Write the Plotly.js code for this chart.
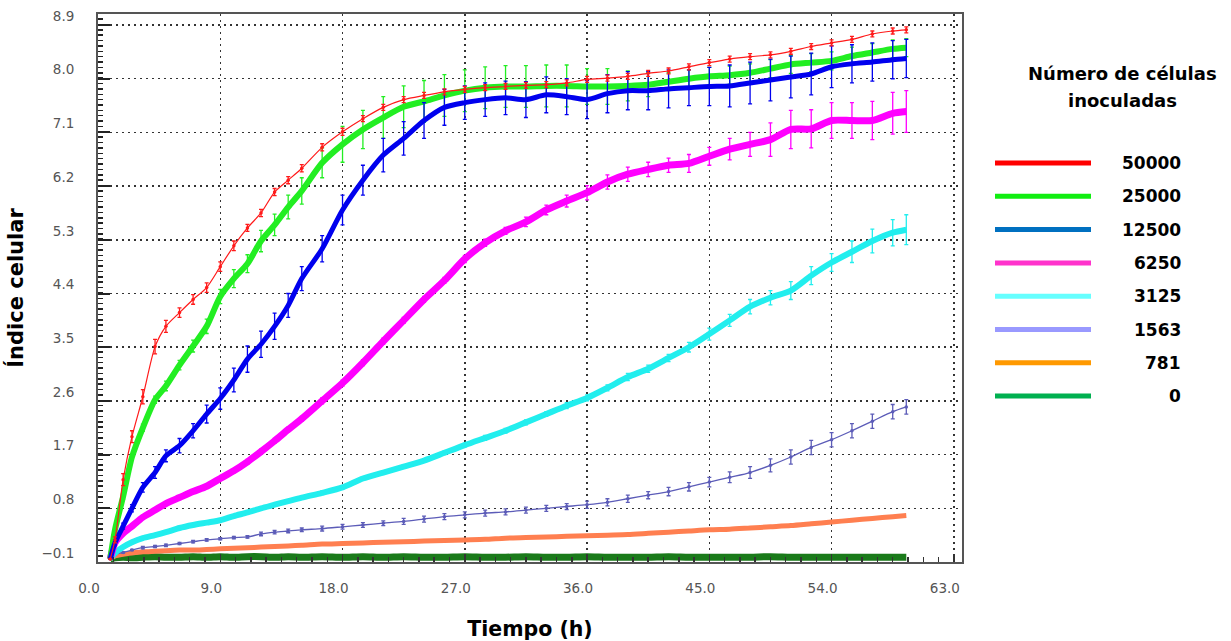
<!DOCTYPE html>
<html>
<head>
<meta charset="utf-8">
<script src="https://cdn.plot.ly/plotly-3.0.1.min.js"></script>
<style>
  html, body { margin: 0; padding: 0; background: #ffffff; }
  #chart { width: 1231px; height: 641px; }
</style>
</head>
<body>
<div id="chart"></div>
<script>
// Time (h)
const tiempo = [0.9, 1.25, 1.85, 2.5, 3.3, 4.2, 5, 6, 7, 8, 9, 10, 11, 12, 13, 14, 15, 16.5, 18, 19.5, 21, 22.5, 24, 25.5, 27, 28.5, 30, 31.5, 33, 34.5, 36, 37.5, 39, 40.5, 42, 43.5, 45, 46.5, 48, 49.5, 51, 52.5, 54, 55.5, 57, 58.5, 59.5];

// Cell index per number of inoculated cells
const ci50000 = [-0.05, 0.27, 1.28, 2.0, 2.67, 3.51, 3.85, 4.08, 4.3, 4.5, 4.85, 5.2, 5.5, 5.75, 6.1, 6.3, 6.5, 6.85, 7.11, 7.33, 7.52, 7.65, 7.72, 7.78, 7.82, 7.85, 7.87, 7.89, 7.9, 7.93, 7.99, 8.01, 8.04, 8.09, 8.13, 8.2, 8.27, 8.33, 8.37, 8.4, 8.46, 8.54, 8.6, 8.66, 8.75, 8.8, 8.82];
const ci25000 = [-0.05, 0.44, 1.0, 1.66, 2.15, 2.62, 2.85, 3.2, 3.52, 3.85, 4.35, 4.65, 4.9, 5.28, 5.55, 5.85, 6.12, 6.59, 6.9, 7.15, 7.35, 7.53, 7.62, 7.72, 7.8, 7.85, 7.87, 7.87, 7.88, 7.88, 7.87, 7.87, 7.88, 7.9, 7.95, 8.0, 8.04, 8.06, 8.1, 8.17, 8.24, 8.27, 8.3, 8.38, 8.44, 8.5, 8.52];
const ci12500 = [-0.05, 0.22, 0.5, 0.8, 1.15, 1.4, 1.68, 1.85, 2.1, 2.38, 2.64, 2.95, 3.3, 3.55, 3.85, 4.2, 4.65, 5.15, 5.8, 6.3, 6.72, 7.0, 7.3, 7.52, 7.6, 7.65, 7.68, 7.65, 7.73, 7.7, 7.65, 7.75, 7.8, 7.8, 7.83, 7.85, 7.87, 7.88, 7.93, 7.98, 8.03, 8.08, 8.2, 8.25, 8.28, 8.32, 8.34];
const ci6250 = [-0.05, 0.22, 0.38, 0.5, 0.65, 0.77, 0.88, 0.98, 1.08, 1.17, 1.3, 1.43, 1.58, 1.75, 1.93, 2.12, 2.3, 2.6, 2.9, 3.24, 3.6, 3.95, 4.3, 4.62, 4.98, 5.25, 5.45, 5.6, 5.8, 5.95, 6.09, 6.27, 6.4, 6.48, 6.55, 6.58, 6.7, 6.82, 6.9, 6.98, 7.15, 7.16, 7.3, 7.3, 7.3, 7.42, 7.45];
const ci3125 = [-0.05, 0.05, 0.15, 0.23, 0.3, 0.35, 0.4, 0.47, 0.52, 0.56, 0.6, 0.67, 0.73, 0.8, 0.86, 0.92, 0.98, 1.06, 1.15, 1.3, 1.4, 1.5, 1.6, 1.73, 1.86, 1.98, 2.1, 2.24, 2.38, 2.52, 2.65, 2.82, 3.0, 3.14, 3.32, 3.5, 3.72, 3.95, 4.18, 4.33, 4.45, 4.7, 4.92, 5.1, 5.28, 5.42, 5.47];
const ci1563 = [-0.05, 0.02, 0.06, 0.1, 0.14, 0.16, 0.18, 0.21, 0.24, 0.27, 0.29, 0.31, 0.32, 0.37, 0.4, 0.42, 0.44, 0.46, 0.49, 0.52, 0.55, 0.58, 0.62, 0.66, 0.69, 0.72, 0.74, 0.77, 0.8, 0.83, 0.86, 0.9, 0.96, 1.02, 1.08, 1.16, 1.24, 1.32, 1.4, 1.52, 1.66, 1.82, 1.95, 2.1, 2.26, 2.42, 2.5];
const ci781 = [-0.05, 0.0, 0.03, 0.05, 0.07, 0.08, 0.09, 0.1, 0.1, 0.11, 0.12, 0.13, 0.14, 0.15, 0.16, 0.17, 0.18, 0.2, 0.21, 0.22, 0.23, 0.24, 0.25, 0.26, 0.27, 0.28, 0.3, 0.31, 0.32, 0.33, 0.34, 0.35, 0.36, 0.38, 0.4, 0.42, 0.44, 0.45, 0.47, 0.49, 0.51, 0.54, 0.57, 0.6, 0.63, 0.66, 0.68];
const ci0 = [-0.05, -0.03, -0.02, -0.03, -0.02, -0.01, -0.02, -0.02, -0.01, -0.02, -0.01, -0.02, -0.01, -0.01, -0.02, -0.01, -0.02, -0.01, -0.02, -0.01, -0.02, -0.01, -0.02, -0.02, -0.01, -0.02, -0.02, -0.01, -0.02, -0.02, -0.01, -0.02, -0.02, -0.02, -0.01, -0.02, -0.02, -0.02, -0.02, -0.01, -0.02, -0.02, -0.02, -0.02, -0.02, -0.02, -0.02];

// Error (standard deviation) per series
const err50000 = [0, 0.05, 0.1, 0.1, 0.12, 0.12, 0.1, 0.08, 0.08, 0.08, 0.08, 0.08, 0.06, 0.06, 0.06, 0.06, 0.06, 0.06, 0.06, 0.05, 0.05, 0.05, 0.05, 0.05, 0.05, 0.05, 0.05, 0.05, 0.05, 0.05, 0.05, 0.05, 0.05, 0.05, 0.05, 0.05, 0.05, 0.05, 0.05, 0.05, 0.05, 0.05, 0.05, 0.05, 0.05, 0.05, 0.05];
const err25000 = [0, 0.05, 0.05, 0.05, 0.06, 0.06, 0.08, 0.08, 0.1, 0.12, 0.12, 0.15, 0.15, 0.18, 0.18, 0.2, 0.22, 0.25, 0.3, 0.32, 0.35, 0.35, 0.35, 0.35, 0.35, 0.35, 0.35, 0.35, 0.35, 0.35, 0.3, 0.3, 0.25, 0.2, 0.15, 0.15, 0.15, 0.15, 0.15, 0.15, 0.15, 0.15, 0.15, 0.15, 0.15, 0.15, 0.15];
const err12500 = [0, 0.05, 0.05, 0.06, 0.08, 0.1, 0.1, 0.12, 0.12, 0.15, 0.18, 0.2, 0.22, 0.22, 0.22, 0.2, 0.2, 0.22, 0.25, 0.25, 0.28, 0.28, 0.3, 0.3, 0.28, 0.28, 0.28, 0.3, 0.3, 0.3, 0.32, 0.32, 0.32, 0.32, 0.32, 0.3, 0.32, 0.35, 0.35, 0.35, 0.35, 0.35, 0.35, 0.32, 0.32, 0.32, 0.32];
const err6250 = [0, 0.03, 0.03, 0.03, 0.03, 0.03, 0.03, 0.03, 0.03, 0.03, 0.03, 0.03, 0.04, 0.04, 0.04, 0.04, 0.04, 0.05, 0.05, 0.05, 0.05, 0.05, 0.05, 0.05, 0.06, 0.06, 0.06, 0.08, 0.08, 0.1, 0.12, 0.12, 0.12, 0.12, 0.12, 0.15, 0.15, 0.18, 0.2, 0.28, 0.32, 0.32, 0.3, 0.3, 0.32, 0.35, 0.35];
const err3125 = [0, 0.02, 0.02, 0.02, 0.02, 0.02, 0.02, 0.02, 0.02, 0.02, 0.02, 0.02, 0.02, 0.02, 0.02, 0.02, 0.02, 0.03, 0.03, 0.03, 0.03, 0.03, 0.03, 0.03, 0.03, 0.04, 0.04, 0.04, 0.04, 0.05, 0.05, 0.05, 0.06, 0.06, 0.06, 0.08, 0.1, 0.1, 0.12, 0.12, 0.15, 0.15, 0.15, 0.18, 0.2, 0.22, 0.25];
const err1563 = [0, 0.01, 0.01, 0.01, 0.02, 0.02, 0.02, 0.02, 0.02, 0.02, 0.02, 0.02, 0.02, 0.03, 0.03, 0.03, 0.03, 0.04, 0.04, 0.04, 0.04, 0.05, 0.05, 0.05, 0.05, 0.05, 0.05, 0.05, 0.05, 0.05, 0.06, 0.06, 0.06, 0.06, 0.07, 0.07, 0.08, 0.09, 0.1, 0.11, 0.12, 0.12, 0.12, 0.12, 0.12, 0.12, 0.12];

// Legend
const legendTitleLines = ["Número de células", "inoculadas"];
const legendLabels = ["50000", "25000", "12500", "6250", "3125", "1563", "781", "0"];
const legendColors = ["#ff0000", "#11ee11", "#0070c0", "#ff33cc", "#66ffff", "#9999ff", "#ff9900", "#00b050"];

const xTitle = "Tiempo (h)";
const yTitle = "Índice celular";

function errTrace(y, err, color, width, marker) {
  const t = {
    x: tiempo, y: y, type: 'scatter', mode: marker ? 'lines+markers' : 'lines',
    line: { color: color, width: width, shape: 'spline', smoothing: 0.7 },
    hoverinfo: 'skip', showlegend: false
  };
  if (marker) t.marker = { color: color, size: 3.5 };
  if (err) t.error_y = { type: 'data', array: err, visible: true, color: color, thickness: 1.3, width: 2 };
  return t;
}

const traces = [
  errTrace(ci0, null, '#1a7a1a', 7, false),
  errTrace(ci781, null, '#ff7f50', 5, false),
  errTrace(ci1563, err1563, '#5c5cb8', 1.3, true),
  errTrace(ci3125, err3125, '#22eeee', 6, false),
  errTrace(ci6250, err6250, '#ff00ff', 7, false),
  errTrace(ci25000, err25000, '#22ee22', 6, false),
  errTrace(ci12500, err12500, '#0000ee', 5, false),
  errTrace(ci50000, err50000, '#ff1a1a', 1.2, true)
];

const plotL = 98, plotR = 962, plotT = 14, plotB = 562;
const pw = plotR - plotL, ph = plotB - plotT;
const px = v => (v - plotL) / pw;
const py = v => (plotB - v) / ph;

const legendY0 = 163, legendStep = 33.3;
const shapes = [];
const annotations = [];
legendLabels.forEach((lab, i) => {
  const yy = py(legendY0 + i * legendStep);
  shapes.push({
    type: 'line', xref: 'paper', yref: 'paper',
    x0: px(995), x1: px(1091), y0: yy, y1: yy,
    line: { color: legendColors[i], width: 5 }
  });
  annotations.push({
    xref: 'paper', yref: 'paper', x: px(1183), y: yy,
    xanchor: 'right', yanchor: 'middle', showarrow: false,
    text: lab, font: { family: 'DejaVu Sans', size: 17, color: '#000', weight: 'bold' }
  });
});
legendTitleLines.forEach((line, i) => {
  annotations.push({
    xref: 'paper', yref: 'paper', x: px(1122), y: py(74 + i * 27),
    xanchor: 'center', yanchor: 'middle', showarrow: false,
    text: line, font: { family: 'DejaVu Sans', size: 18, color: '#000', weight: 'bold' }
  });
});

const layout = {
  width: 1231, height: 641,
  paper_bgcolor: '#ffffff', plot_bgcolor: '#ffffff',
  margin: { l: plotL, r: 1231 - plotR, t: plotT, b: 641 - plotB, pad: 0 },
  showlegend: false,
  xaxis: {
    range: [0, 63.6], tick0: 0, dtick: 9, tickformat: '.1f',
    showgrid: true, gridcolor: '#333', griddash: '2px,4px', gridwidth: 1.5,
    zeroline: false, showline: true, linecolor: '#555', linewidth: 2, mirror: true,
    ticks: 'inside', ticklen: 8, tickcolor: '#333', tickwidth: 1.5,
    minor: { dtick: 1.125, ticks: 'inside', ticklen: 5, tickcolor: '#333', showgrid: false },
    tickfont: { family: 'DejaVu Sans', size: 13.5, color: '#555' },
    ticklabelstandoff: 13, ticklabelshift: -9,
    title: { text: xTitle, font: { family: 'DejaVu Sans', size: 20.5, color: '#000', weight: 'bold' }, standoff: 26 }
  },
  yaxis: {
    range: [-0.1, 9.085], tick0: -0.1, dtick: 0.9, tickformat: '.1f',
    showgrid: true, gridcolor: '#333', griddash: '2px,4px', gridwidth: 1.5,
    zeroline: false, showline: true, linecolor: '#555', linewidth: 2, mirror: true,
    ticks: 'inside', ticklen: 12, tickcolor: '#222', tickwidth: 2,
    minor: { dtick: 0.09, ticks: 'inside', ticklen: 5, tickcolor: '#222', tickwidth: 1.5, showgrid: false },
    tickfont: { family: 'DejaVu Sans', size: 13.5, color: '#555' },
    ticklabelstandoff: 19, ticklabelshift: -9,
    title: { text: yTitle, font: { family: 'DejaVu Sans', size: 21, color: '#000', weight: 'bold' }, standoff: 12 }
  },
  shapes: shapes,
  annotations: annotations
};

Plotly.newPlot('chart', traces, layout, { displayModeBar: false, staticPlot: true });
</script>
</body>
</html>
